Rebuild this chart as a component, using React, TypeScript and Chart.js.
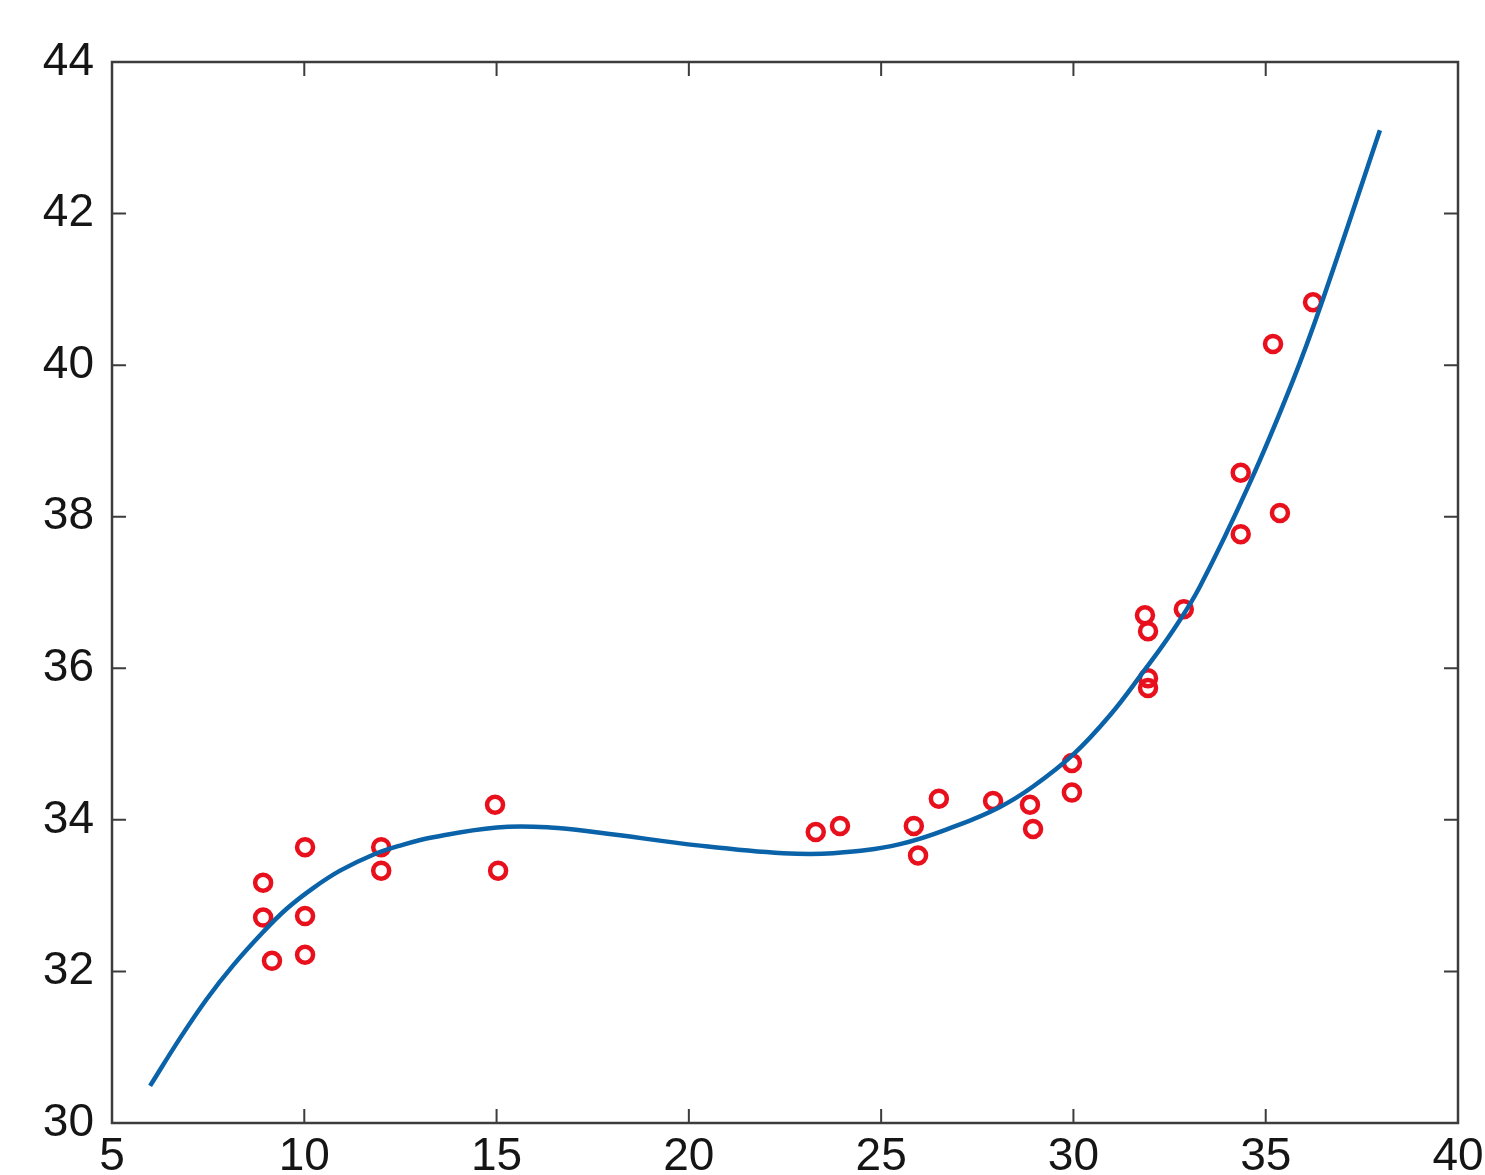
import React, { useEffect, useRef } from "react";
import { Chart, registerables } from "chart.js";

Chart.register(...registerables);

// Observed data (red circles)
const sampleX = [
  8.93, 8.93, 9.16, 10.02, 10.02, 10.02, 12.0, 12.0, 14.96, 15.04,
  23.3, 23.93, 25.85, 25.96, 26.5, 27.91, 28.87, 28.95, 29.96, 29.96,
  31.86, 31.94, 31.94, 31.94, 32.87, 34.35, 34.35, 35.19, 35.37, 36.23,
];
const sampleY = [
  33.17, 32.71, 32.14, 33.64, 32.73, 32.22, 33.64, 33.33, 34.2, 33.33,
  33.84, 33.92, 33.92, 33.53, 34.28, 34.25, 34.2, 33.88, 34.75, 34.36,
  36.7, 36.49, 35.87, 35.74, 36.78, 38.58, 37.77, 40.28, 38.05, 40.83,
];

// Fitted curve (blue line)
const curveX = [
  5.99, 6.77, 7.47, 8.15, 8.93, 9.55, 10.23, 10.93, 11.79, 12.49,
  13.35, 15.01, 16.39, 17.69, 20.29, 22.45, 23.75, 25.49, 27.0, 28.09,
  28.95, 29.99, 30.95, 31.81, 32.59, 33.29, 34.59, 35.71, 36.46, 37.97,
];
const curveY = [
  30.49, 31.12, 31.64, 32.08, 32.52, 32.83, 33.1, 33.33, 33.54, 33.66,
  33.77, 33.9, 33.9, 33.83, 33.66, 33.56, 33.56, 33.68, 33.93, 34.17,
  34.44, 34.86, 35.38, 35.95, 36.5, 37.08, 38.45, 39.8, 40.83, 43.1,
];

const xTicks = [5, 10, 15, 20, 25, 30, 35, 40];
const yTicks = [30, 32, 34, 36, 38, 40, 42, 44];

const FONT = "'Liberation Sans', Arial, Helvetica, sans-serif";

const boxPlugin = {
  id: "matlabBox",
  afterDraw(chart: any) {
    const { ctx, chartArea, scales } = chart;
    const { left, right, top, bottom } = chartArea;
    const tickLen = 14;
    ctx.save();
    ctx.strokeStyle = "#3c3c3c";
    ctx.lineWidth = 2.5;
    ctx.strokeRect(left, top, right - left, bottom - top);
    ctx.lineWidth = 2;
    ctx.beginPath();
    scales.x.ticks.forEach((t: any) => {
      const px = scales.x.getPixelForValue(t.value);
      ctx.moveTo(px, bottom);
      ctx.lineTo(px, bottom - tickLen);
      ctx.moveTo(px, top);
      ctx.lineTo(px, top + tickLen);
    });
    scales.y.ticks.forEach((t: any) => {
      const py = scales.y.getPixelForValue(t.value);
      ctx.moveTo(left, py);
      ctx.lineTo(left + tickLen, py);
      ctx.moveTo(right, py);
      ctx.lineTo(right - tickLen, py);
    });
    ctx.stroke();
    ctx.restore();
  },
};

export default function App() {
  const ref = useRef<HTMLCanvasElement>(null);

  useEffect(() => {
    if (!ref.current) return;
    const chart = new Chart(ref.current, {
      type: "scatter",
      data: {
        datasets: [
          {
            label: "fit",
            data: curveX.map((x, i) => ({ x, y: curveY[i] })),
            showLine: true,
            borderColor: "#0a62a8",
            borderWidth: 4.5,
            pointRadius: 0,
            tension: 0.4,
            fill: false,
            order: 0,
          },
          {
            label: "data",
            data: sampleX.map((x, i) => ({ x, y: sampleY[i] })),
            showLine: false,
            pointStyle: "circle",
            pointRadius: 8,
            pointBorderWidth: 4.5,
            pointBorderColor: "#e8101c",
            pointBackgroundColor: "rgba(255,255,255,0)",
            order: 1,
          },
        ],
      },
      options: {
        responsive: false,
        animation: false,
        events: [],
        layout: { padding: { top: 62, right: 27, left: 0, bottom: 0 } },
        plugins: {
          legend: { display: false },
          tooltip: { enabled: false },
        },
        scales: {
          x: {
            type: "linear",
            min: 5,
            max: 40,
            afterBuildTicks: (scale: any) => {
              scale.ticks = xTicks.map((v) => ({ value: v }));
            },
            afterFit: (scale: any) => {
              scale.height = 52;
              scale.paddingLeft = 0;
              scale.paddingRight = 0;
            },
            grid: { display: false, drawTicks: false },
            border: { display: false },
            ticks: {
              padding: 7,
              color: "#151515",
              font: { family: FONT, size: 46 },
              maxRotation: 0,
              autoSkip: false,
            },
          },
          y: {
            type: "linear",
            min: 30,
            max: 44,
            afterBuildTicks: (scale: any) => {
              scale.ticks = yTicks.map((v) => ({ value: v }));
            },
            afterFit: (scale: any) => {
              scale.width = 112;
              scale.paddingTop = 0;
              scale.paddingBottom = 0;
            },
            grid: { display: false, drawTicks: false },
            border: { display: false },
            ticks: {
              padding: 18,
              color: "#151515",
              font: { family: FONT, size: 46 },
              autoSkip: false,
            },
          },
        },
      },
      plugins: [boxPlugin],
    });
    return () => chart.destroy();
  }, []);

  return (
    <div style={{ position: "fixed", left: 0, top: 0, width: 1485, height: 1175, background: "#fff" }}>
      <canvas ref={ref} width={1485} height={1175} style={{ display: "block" }} />
    </div>
  );
}
